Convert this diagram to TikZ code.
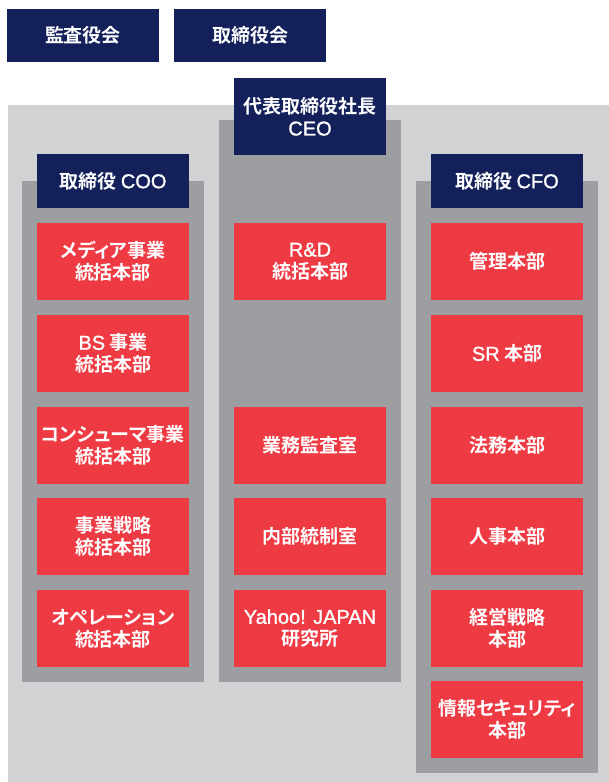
\documentclass[tikz,border=0pt]{standalone}
\usepackage{fontspec}
\setmainfont{Noto Sans CJK JP}[BoldFont={Noto Sans CJK JP Bold},RawFeature=+palt]
\newfontfamily\hv{Liberation Sans}[FakeBold=1.2]
\definecolor{navy}{HTML}{13205A}
\definecolor{redb}{HTML}{EE3A43}
\definecolor{lgray}{HTML}{D1D2D4}
\definecolor{dgray}{HTML}{9D9EA2}
\tikzset{
  x=1pt, y=-1pt,
  basebox/.style={inner sep=0pt, minimum width=152pt, text=white, align=center,
    font=\fontsize{19}{22}\selectfont\bfseries},
  navybox/.style={basebox, fill=navy},
  redbox/.style={basebox, fill=redb, minimum height=77pt},
  colbg/.style={fill=dgray},
}
\newcommand{\latn}[1]{{\fontsize{20}{22}\selectfont\hv\mdseries #1}}
\begin{document}
\begin{tikzpicture}
\useasboundingbox (0,0) rectangle (609,782);
\fill[lgray] (8,105) rectangle (609,782);
\fill[colbg] (22,181) rectangle (204,682);
\fill[colbg] (219,120) rectangle (401,682);
\fill[colbg] (416,181) rectangle (598,773);
% top boxes
\node[navybox, minimum height=53pt] (audit) at (83,35.5) {監査役会};
\node[navybox, minimum height=53pt] (board) at (250,35.5) {取締役会};
\node[navybox, minimum height=77pt] (ceo) at (310,116.5) {代表取締役社長\\\latn{CEO}};
\node[navybox, minimum height=54pt] (coo) at (113,181) {取締役 \latn{COO}};
\node[navybox, minimum height=54pt] (cfo) at (507,181) {取締役 \latn{CFO}};
% COO column
\node[redbox] (c1) at (113,261.5) {メディア事業\\統括本部};
\node[redbox] (c2) at (113,353.5) {\latn{BS} 事業\\統括本部};
\node[redbox] (c3) at (113,445.5) {コンシューマ事業\\統括本部};
\node[redbox] (c4) at (113,536.5) {事業戦略\\統括本部};
\node[redbox] (c5) at (113,628.5) {オペレーション\\統括本部};
% CEO column
\node[redbox] (e1) at (310,261.5) {\latn{R\&D}\\統括本部};
\node[redbox] (e3) at (310,445.5) {業務監査室};
\node[redbox] (e4) at (310,536.5) {内部統制室};
\node[redbox] (e5) at (310,628.5) {\latn{Yahoo! JAPAN}\\研究所};
% CFO column
\node[redbox] (f1) at (507,261.5) {管理本部};
\node[redbox] (f2) at (507,353.5) {\latn{SR} 本部};
\node[redbox] (f3) at (507,445.5) {法務本部};
\node[redbox] (f4) at (507,536.5) {人事本部};
\node[redbox] (f5) at (507,628.5) {経営戦略\\本部};
\node[redbox] (f6) at (507,719.5) {情報セキュリティ\\本部};
\end{tikzpicture}
\end{document}
